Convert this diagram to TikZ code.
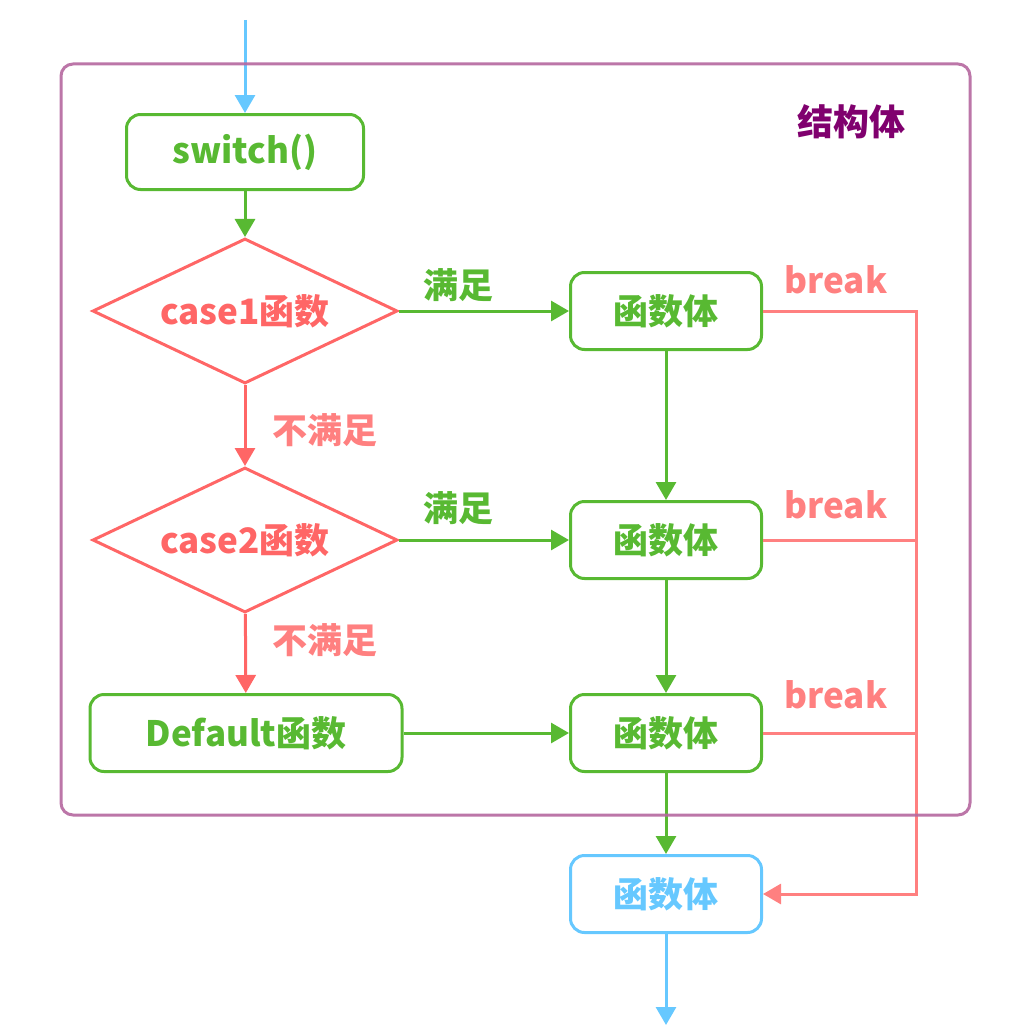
\documentclass[tikz,border=0pt]{standalone}
\usepackage{fontspec}
\setmainfont{Noto Sans CJK SC}
\usetikzlibrary{positioning, shapes.geometric, arrows.meta}
\definecolor{flowgreen}{RGB}{88,185,50}
\definecolor{flowred}{RGB}{255,102,102}
\definecolor{breakred}{RGB}{255,128,128}
\definecolor{flowblue}{RGB}{102,200,255}
\definecolor{framepurple}{RGB}{181,103,159}
\definecolor{titlepurple}{RGB}{128,0,110}

\begin{document}
\begin{tikzpicture}[x=1pt, y=-1pt, line width=3pt,
    every node/.style={font=\fontsize{35}{38}\selectfont\bfseries},
    tip/.style={-{Triangle[width=20pt, length=18pt]}},
    greenbox/.style={draw=flowgreen, text=flowgreen, rounded corners=14pt,
        minimum width=191pt, minimum height=77pt, inner sep=0pt},
    bluebox/.style={greenbox, draw=flowblue, text=flowblue},
    casediamond/.style={diamond, draw=flowred, text=flowred, aspect=2.1,
        inner sep=0pt, minimum width=305pt, minimum height=145pt},
    grarrow/.style={tip, draw=flowgreen},
    redarrow/.style={tip, draw=flowred},
    bluearrow/.style={tip, draw=flowblue},
    breakline/.style={draw=breakred}]
    \useasboundingbox (0,0) rectangle (1030,1033);
    \node[text=titlepurple, font=\fontsize{36}{38}\selectfont\bfseries] (title) at (851,122) {结构体};

    % left column
    \node[greenbox, minimum width=237pt, minimum height=75pt] (switch) at (245,152) {switch()};
    \node[casediamond] (case1) at (245,311) {case1函数};
    \node[casediamond] (case2) at (245,540) {case2函数};
    \node[greenbox, minimum width=312pt] (default) at (246,733) {Default函数};

    % right column
    \node[greenbox] (body1) at (666,311) {函数体};
    \node[greenbox] (body2) at (666,540) {函数体};
    \node[greenbox] (body3) at (666,733) {函数体};
    \node[bluebox] (after) at (666,894) {函数体};

    \coordinate (entry) at (245,20);
    \coordinate (exit) at (666,1025);
    \coordinate (bus) at (916,311);

    % main flow
    \draw[bluearrow] (entry) -- (switch);
    \draw[grarrow] (switch) -- (case1);
    \draw[redarrow] (case1) -- (case2);
    \draw[redarrow] (case2) -- (default);
    \draw[grarrow] (case1) -- (body1);
    \draw[grarrow] (case2) -- (body2);
    \draw[grarrow] (default) -- (body3);
    \draw[grarrow] (body1) -- (body2);
    \draw[grarrow] (body2) -- (body3);
    \draw[grarrow] (body3) -- (after);
    \draw[bluearrow] (after) -- (exit);

    % break lines
    \draw[breakline, tip] (body1.east) -- (bus) |- (after.east);
    \draw[breakline] (body2.east) -- (body2.east -| bus);
    \draw[breakline] (body3.east) -- (body3.east -| bus);

    % labels
    \node[text=flowgreen] (yes1) at (458,285) {满足};
    \node[text=flowgreen] (yes2) at (458,508) {满足};
    \node[text=breakred] (no1) at (325,430) {不满足};
    \node[text=breakred] (no2) at (325,640) {不满足};
    \node[text=breakred] (brk1) at (836,280) {break};
    \node[text=breakred] (brk2) at (836,505) {break};
    \node[text=breakred] (brk3) at (836,695) {break};

    % frame of the structure, drawn over the connectors
    \draw[framepurple, draw opacity=0.9, rounded corners=12pt] (61,64) rectangle (970,815);
\end{tikzpicture}
\end{document}
